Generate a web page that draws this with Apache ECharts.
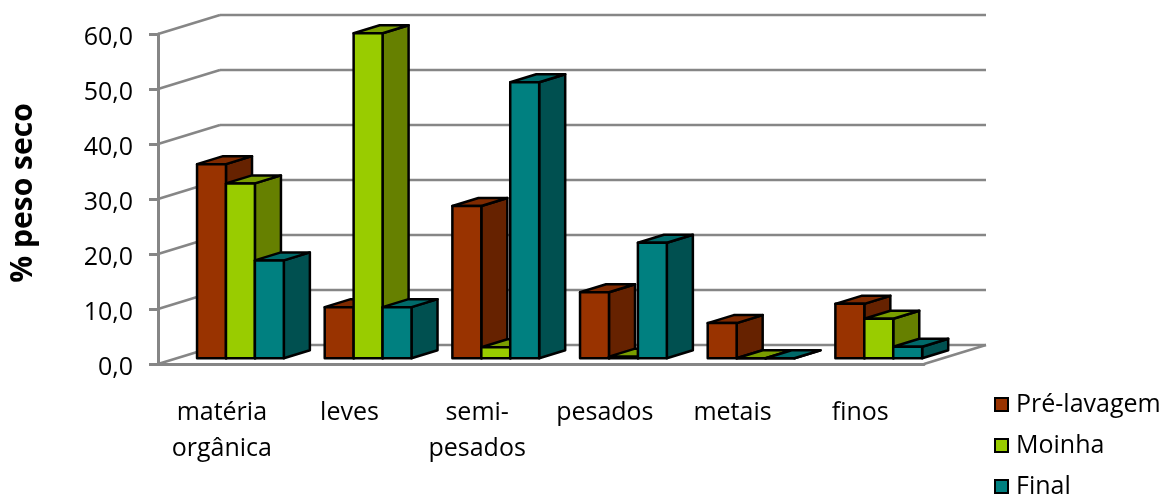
<!DOCTYPE html>
<html>
<head>
<meta charset="utf-8">
<style>html,body{margin:0;padding:0;background:#fff}#c{width:1165px;height:498px}</style>
<script src="https://cdn.jsdelivr.net/npm/echarts@6/dist/echarts.min.js"></script>
</head>
<body>
<div id="c"></div>
<script>
// Fractions de massa seca por categoria de material
const categorias = ['matéria\norgânica', 'leves', 'semi-\npesados', 'pesados', 'metais', 'finos'];
const preLavagem = [35.3, 9.3, 27.7, 12.0, 6.4, 9.9];
const moinha = [31.8, 59.1, 2.0, 0.3, 0, 7.2];
const final = [17.8, 9.3, 50.2, 21.0, 0, 2.1];
const marcasEixo = [0, 10, 20, 30, 40, 50, 60];

const FONTE = '"Open Sans", sans-serif';
const CINZA = '#868686';

// Projecao oblíqua: deslocamento do plano frontal ate a parede do fundo
const FUNDO_X = 62, FUNDO_Y = -19;
const FRENTE_BARRA = 0.3;       // posicao da face frontal na profundidade
const PROF_BARRA = 0.42;        // profundidade da barra
const LARG_BARRA = 0.2266;      // largura da barra em fracao da categoria

function prisma(indice, cores) {
  return function (params, api) {
    const cat = api.value(0), v = api.value(1);
    const w = api.size([1, 0])[0];
    const base = api.coord([cat, 0]);
    const topo = api.coord([cat, v]);
    const bw = w * LARG_BARRA;
    const x0 = base[0] - 1.5 * bw + indice * bw + FUNDO_X * FRENTE_BARRA;
    const x1 = x0 + bw;
    const yb = base[1] + FUNDO_Y * FRENTE_BARRA;
    const yt = topo[1] + FUNDO_Y * FRENTE_BARRA;
    const dx = FUNDO_X * PROF_BARRA, dy = FUNDO_Y * PROF_BARRA;
    const traco = { stroke: '#000', lineWidth: 2.5, lineJoin: 'round' };
    const face = (pts, fill) => ({
      type: 'polygon',
      shape: { points: pts },
      style: Object.assign({ fill }, traco)
    });
    return {
      type: 'group',
      children: [
        face([[x1, yb], [x1 + dx, yb + dy], [x1 + dx, yt + dy], [x1, yt]], cores.lado),
        face([[x0, yt], [x0 + dx, yt + dy], [x1 + dx, yt + dy], [x1, yt]], cores.topo),
        face([[x0, yb], [x1, yb], [x1, yt], [x0, yt]], cores.frente)
      ]
    };
  };
}

// Linhas de grade nas paredes e no piso
function paredes(params, api) {
  const v = api.value(1);
  const w = api.size([1, 0])[0];
  const p = api.coord([0, v]);
  const xe = p[0] - w / 2;
  const xd = xe + w * categorias.length;
  const linha = (x1, y1, x2, y2) => ({
    type: 'line',
    shape: { x1, y1, x2, y2 },
    style: { stroke: CINZA, lineWidth: 2.6 }
  });
  const filhos = [
    linha(xe, p[1], xe + FUNDO_X, p[1] + FUNDO_Y),
    linha(xe + FUNDO_X, p[1] + FUNDO_Y, xd + FUNDO_X, p[1] + FUNDO_Y)
  ];
  if (v === 0) filhos.push(linha(xd, p[1], xd + FUNDO_X, p[1] + FUNDO_Y));
  return { type: 'group', children: filhos };
}

function serieBarras(nome, valores, indice, cores) {
  return {
    name: nome,
    type: 'custom',
    renderItem: prisma(indice, cores),
    encode: { x: 0, y: 1 },
    data: valores.map((v, i) => [i, v]),
    itemStyle: { color: cores.frente, borderColor: '#000', borderWidth: 2.5 },
    z: 3,
    silent: true
  };
}

const chart = echarts.init(document.getElementById('c'), null, { renderer: 'canvas' });
chart.setOption({
  animation: false,
  backgroundColor: '#fff',
  grid: { left: 158, top: 34, width: 766, height: 330 },
  legend: {
    orient: 'vertical',
    left: 989,
    top: 387,
    height: 160,
    itemWidth: 13,
    itemHeight: 13,
    itemGap: 16,
    icon: 'rect',
    selectedMode: false,
    data: ['Pré-lavagem', 'Moinha', 'Final'],
    textStyle: { fontFamily: FONTE, fontSize: 25, color: '#000', padding: [0, 0, 0, 3] }
  },
  xAxis: {
    type: 'category',
    data: categorias,
    axisLine: { lineStyle: { color: CINZA, width: 3 } },
    axisTick: { length: 9, lineStyle: { color: CINZA, width: 3 } },
    axisLabel: { fontFamily: FONTE, fontSize: 25, color: '#000', margin: 31, lineHeight: 36, interval: 0 }
  },
  yAxis: {
    type: 'value',
    min: 0,
    max: 60,
    interval: 10,
    name: '% peso seco',
    nameLocation: 'middle',
    nameGap: 120,
    nameTextStyle: { fontFamily: FONTE, fontSize: 30, fontWeight: 'bold', color: '#000', padding: [0, 0, 0, 12] },
    axisLine: { show: true, lineStyle: { color: CINZA, width: 3 } },
    axisTick: { show: true, length: 9, lineStyle: { color: CINZA, width: 3 } },
    splitLine: { show: false },
    axisLabel: {
      fontFamily: FONTE, fontSize: 25, color: '#000', margin: 25,
      verticalAlign: 'top', lineHeight: 8,
      formatter: v => v.toFixed(1).replace('.', ',')
    }
  },
  series: [
    {
      type: 'custom',
      name: 'grade',
      renderItem: paredes,
      encode: { x: 0, y: 1 },
      data: marcasEixo.map(v => [0, v]),
      z: 1,
      silent: true
    },
    serieBarras('Pré-lavagem', preLavagem, 0, { frente: '#993300', lado: '#662200', topo: '#7f2a00' }),
    serieBarras('Moinha', moinha, 1, { frente: '#99cc00', lado: '#668000', topo: '#7a9e00' }),
    serieBarras('Final', final, 2, { frente: '#008080', lado: '#005050', topo: '#006a6a' })
  ]
});
</script>
</body>
</html>
